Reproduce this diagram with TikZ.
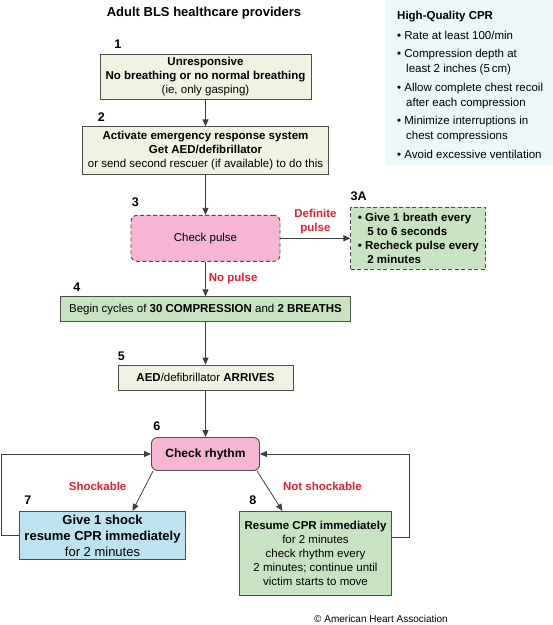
\documentclass[tikz,border=0pt]{standalone}
\usepackage{fontspec}
\setmainfont{Liberation Sans}
\usetikzlibrary{arrows.meta, positioning}

\definecolor{palegreen}{HTML}{EEF3E2}
\definecolor{midgreen}{HTML}{C8E3C2}
\definecolor{pulsepink}{HTML}{F5B5D3}
\definecolor{shockblue}{HTML}{BDE3F0}
\definecolor{cprblue}{HTML}{EDF6F9}
\definecolor{alertred}{HTML}{E3202E}
\definecolor{edgegray}{HTML}{4D4D4D}

\begin{document}
\begin{tikzpicture}[x=1pt, y=1pt, node distance=27pt, >={Triangle[length=7pt, width=6pt]}]
        \tikzstyle{calmbox} = [rectangle, draw=edgegray, line width=0.9pt, fill=palegreen, align=center, inner sep=0pt, font=\fontsize{11.5}{14}\selectfont]
        \tikzstyle{actbox} = [rectangle, draw=edgegray, line width=0.9pt, fill=midgreen, align=center, inner sep=0pt, font=\fontsize{11.5}{14}\selectfont]
        \tikzstyle{checkstep} = [rectangle, draw=edgegray, line width=0.9pt, fill=pulsepink, rounded corners=6pt, align=center, inner sep=0pt, font=\fontsize{11.5}{14}\selectfont]
        \tikzstyle{shockbox} = [rectangle, draw=edgegray, line width=0.9pt, fill=shockblue, align=center, inner sep=0pt, font=\fontsize{13}{16}\selectfont]
        \tikzstyle{stepno} = [inner sep=0pt, font=\fontsize{12.5}{14}\selectfont\bfseries]
        \tikzstyle{cue} = [inner sep=0pt, align=center, text=alertred, font=\fontsize{11.5}{14}\selectfont\bfseries]
        \tikzstyle{flow} = [draw=edgegray!80!black, line width=0.8pt]

        \useasboundingbox (0,0) rectangle (553,-625);
        \fill [cprblue] (385,0) rectangle (553,-165);

        \node [anchor=base, font=\fontsize{13}{15}\selectfont\bfseries] (title) at (204,-16.6) {Adult BLS healthcare providers};

        \node [anchor=north west, align=left, inner sep=0pt, font=\fontsize{11.5}{15}\selectfont] (cprnote) at (397,-10.5)
            {\textbf{High-Quality CPR}\\[5pt]
             \textbullet\ Rate at least 100/min\\[3.5pt]
             \textbullet\ Compression depth at\\
             \hspace*{9pt}least 2 inches (5\,cm)\\[3.5pt]
             \textbullet\ Allow complete chest recoil\\
             \hspace*{9pt}after each compression\\[3.5pt]
             \textbullet\ Minimize interruptions in\\
             \hspace*{9pt}chest compressions\\[3.5pt]
             \textbullet\ Avoid excessive ventilation};

        \node [calmbox, minimum width=211pt, minimum height=45pt] (unresp) at (205.5,-76.5)
            {\textbf{Unresponsive}\\\textbf{No breathing or no normal breathing}\\(ie, only gasping)};
        \node [calmbox, below=of unresp, minimum width=246pt, minimum height=48pt] (activate)
            {\textbf{Activate emergency response system}\\\textbf{Get AED/defibrillator}\\or send second rescuer (if available) to do this};
        \node [checkstep, dashed, dash pattern=on 4pt off 2.5pt, below=39.5pt of activate, minimum width=149pt, minimum height=46pt] (pulse) {Check pulse};
        \node [actbox, dashed, dash pattern=on 4pt off 2.5pt, right=70pt of pulse, minimum width=135pt, minimum height=62pt, align=left] (breath)
            {\textbf{\textbullet\ Give 1 breath every}\\\hspace*{9.5pt}\textbf{5 to 6 seconds}\\\textbf{\textbullet\ Recheck pulse every}\\\hspace*{9.5pt}\textbf{2 minutes}};
        \node [actbox, below=34.5pt of pulse, minimum width=290pt, minimum height=25pt] (cycles)
            {Begin cycles of \textbf{30 COMPRESSION} and \textbf{2 BREATHS}};
        \node [calmbox, below=42.5pt of cycles, minimum width=175pt, minimum height=25pt] (arrives)
            {\textbf{AED}/defibrillator \textbf{ARRIVES}};
        \node [checkstep, below=46.5pt of arrives, minimum width=108pt, minimum height=33pt, font=\fontsize{12}{14}\selectfont\bfseries] (rhythm) {Check rhythm};
        \node [shockbox, below=40pt of rhythm, xshift=-103pt, minimum width=166pt, minimum height=48pt] (shock)
            {\textbf{Give 1 shock}\\\textbf{resume CPR immediately}\\for 2 minutes};
        \node [actbox, below=40pt of rhythm, xshift=110pt, minimum width=152pt, minimum height=84pt] (resume)
            {\textbf{Resume CPR immediately}\\for 2 minutes\\check rhythm every\\2 minutes; continue until\\victim starts to move};

        % step numbers
        \node [stepno, above right=5pt and 14.5pt of unresp.north west] (num1) {1};
        \node [stepno, above right=5pt and 15.5pt of activate.north west] (num2) {2};
        \node [stepno, above right=8pt and 1pt of pulse.north west] (num3) {3};
        \node [stepno, above right=6pt and 0pt of breath.north west] (num3a) {3A};
        \node [stepno, above right=5pt and 13pt of cycles.north west] (num4) {4};
        \node [stepno, above right=4pt and 0pt of arrives.north west] (num5) {5};
        \node [stepno, above right=6pt and 2pt of rhythm.north west] (num6) {6};
        \node [stepno, above right=6pt and 5pt of shock.north west] (num7) {7};
        \node [stepno, above right=6pt and 10pt of resume.north west] (num8) {8};

        \draw [flow, ->] (unresp) -- (activate);
        \draw [flow, ->] (activate) -- (pulse);
        \draw [flow, ->] (pulse) -- node [cue, above=4pt] (definite) {Definite\\pulse} (breath);
        \draw [flow, ->] (pulse) -- node [cue, right=3pt] (nopulse) {No pulse} (cycles);
        \draw [flow, ->] (cycles) -- (arrives);
        \draw [flow, ->] (arrives) -- (rhythm);
        \draw [flow, ->] ([xshift=2pt]rhythm.south west) -- node [cue, left=16pt, yshift=4.5pt] (shockable) {Shockable} ([xshift=30pt]shock.north);
        \draw [flow, ->] ([xshift=-3pt]rhythm.south east) -- node [cue, right=13pt, yshift=4.5pt] (notshock) {Not shockable} ([xshift=-33pt]resume.north);

        % loops back to rhythm check
        \draw [flow, ->] (shock.west) -- ++(-17.5,0) |- (rhythm.west);
        \draw [flow, ->] ([yshift=16pt]resume.east) -- ++(17,0) |- (rhythm.east);

        \node [anchor=base, font=\fontsize{10}{12}\selectfont] (credit) at (381,-622.6) {\textcopyright{} American Heart Association};
    \end{tikzpicture}
\end{document}
